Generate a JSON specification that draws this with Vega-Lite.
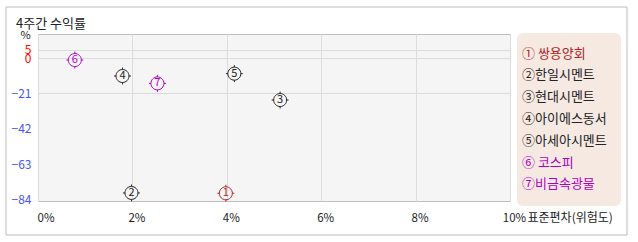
{
  "$schema": "https://vega.github.io/schema/vega-lite/v6.json",
  "width": 472,
  "height": 167,
  "autosize": {"type": "none"},
  "padding": {"left": 38, "top": 34, "right": 128, "bottom": 41},
  "background": "white",
  "config": {
    "view": {"fill": "#f5f5f5", "stroke": "#bdbdbd"},
    "font": "Noto Sans CJK KR",
    "axisX": {
      "labelExpr": "datum.value + '%'",
      "titleX": 489,
      "titleY": 16,
      "titleAlign": "left",
      "titleBaseline": "middle",
      "titleFontWeight": "normal",
      "titleFontSize": 12,
      "titleColor": "#222222",
      "domain": false,
      "ticks": false,
      "labelPadding": 11,
      "labelFontSize": 11.5,
      "labelColor": "#222222",
      "labelFlush": false,
      "labelAlign": {"condition": {"test": "datum.value == 0", "value": "left"}, "value": "center"},
      "labelOffset": {"condition": {"test": "datum.value == 0", "value": -1}, "value": 4},
      "gridColor": "#dcdcdc"
    },
    "axisY": {
      "titleAngle": 0,
      "titleX": -13,
      "titleY": 1,
      "titleAlign": "center",
      "titleBaseline": "middle",
      "titleFontWeight": "normal",
      "titleFontSize": 11,
      "titleColor": "#222222",
      "domain": false,
      "ticks": false,
      "labelPadding": 7,
      "labelFontSize": 12,
      "labelOverlap": false,
      "labelBaseline": "middle",
      "labelColor": {"condition": {"test": "datum.value >= 0", "value": "#ff0000"}, "value": "#4455ff"},
      "gridColor": "#dcdcdc",
      "gridOpacity": {"condition": {"test": "datum.value < -30", "value": 0}, "value": 1}
    }
  },
  "data": {
    "values": [
      {"num": "1", "label": "① 쌍용양회", "sd": 3.98, "ret": -80.4},
      {"num": "2", "label": "②한일시멘트", "sd": 1.98, "ret": -80.2},
      {"num": "3", "label": "③현대시멘트", "sd": 5.13, "ret": -24.9},
      {"num": "4", "label": "④아이에스동서", "sd": 1.79, "ret": -10.6},
      {"num": "5", "label": "⑤아세아시멘트", "sd": 4.16, "ret": -9.2},
      {"num": "6", "label": "⑥ 코스피", "sd": 0.78, "ret": -1.1},
      {"num": "7", "label": "⑦비금속광물", "sd": 2.53, "ret": -15.0}
    ]
  },
  "layer": [
    {
      "mark": {
        "type": "point",
        "shape": "M1,0A1,1,0,1,1,-1,0A1,1,0,1,1,1,0M0,-1V-1.3M0,1V1.3M-1,0H-1.3M1,0H1.3",
        "filled": false,
        "size": 169,
        "strokeWidth": 1,
        "opacity": 1
      },
      "encoding": {
        "x": {
          "field": "sd",
          "type": "quantitative",
          "scale": {"domain": [0, 10], "nice": false, "zero": false},
          "axis": {"title": "표준편차(위험도)", "values": [0, 2, 4, 6, 8, 10]}
        },
        "y": {
          "field": "ret",
          "type": "quantitative",
          "scale": {"domain": [-85, 14.4], "nice": false, "zero": false},
          "axis": {"title": "%", "values": [5, 0, -21, -42, -63, -84]}
        },
        "color": {
          "field": "label",
          "type": "nominal",
          "sort": null,
          "scale": {
            "domain": ["① 쌍용양회", "②한일시멘트", "③현대시멘트", "④아이에스동서", "⑤아세아시멘트", "⑥ 코스피", "⑦비금속광물"],
            "range": ["#b01e1e", "#222222", "#222222", "#222222", "#222222", "#b000c0", "#b000c0"]
          },
          "legend": {
            "orient": "none",
            "legendX": 479,
            "legendY": -1,
            "title": null,
            "fillColor": "#f6e9e2",
            "cornerRadius": 6,
            "padding": 14,
            "symbolSize": 0,
            "symbolOpacity": 0,
            "symbolStrokeWidth": 0,
            "labelOffset": -22,
            "labelFontSize": 13,
            "rowPadding": 7.8,
            "labelLimit": 200,
            "labelColor": {"expr": "scale('color', datum.value)"}
          }
        }
      }
    },
    {
      "mark": {"type": "text", "fontSize": 11, "baseline": "middle", "align": "center", "dy": 0},
      "encoding": {
        "x": {"field": "sd", "type": "quantitative", "axis": {"title": "표준편차(위험도)", "values": [0, 2, 4, 6, 8, 10]}},
        "y": {"field": "ret", "type": "quantitative", "axis": {"title": "%", "values": [5, 0, -21, -42, -63, -84]}},
        "text": {"field": "num"},
        "color": {"field": "label", "type": "nominal", "legend": null}
      }
    },
    {
      "data": {"values": [{}]},
      "mark": {"type": "rect", "fillOpacity": 0, "stroke": "#bdbdbd", "strokeWidth": 1, "clip": false},
      "encoding": {
        "x": {"datum": -0.678, "type": "quantitative", "axis": {"title": "표준편차(위험도)", "values": [0, 2, 4, 6, 8, 10]}},
        "x2": {"datum": 12.479},
        "y": {"datum": 30.47, "type": "quantitative", "axis": {"title": "%", "values": [5, 0, -21, -42, -63, -84]}},
        "y2": {"datum": -105.24}
      }
    },
    {
      "data": {"values": [{}]},
      "mark": {"type": "text", "align": "left", "baseline": "middle", "fontSize": 13, "color": "#222222", "clip": false},
      "encoding": {
        "x": {"datum": -0.466, "type": "quantitative", "axis": {"title": "표준편차(위험도)", "values": [0, 2, 4, 6, 8, 10]}},
        "y": {"datum": 20.3, "type": "quantitative", "axis": {"title": "%", "values": [5, 0, -21, -42, -63, -84]}},
        "text": {"value": "4주간 수익률"}
      }
    }
  ]
}
